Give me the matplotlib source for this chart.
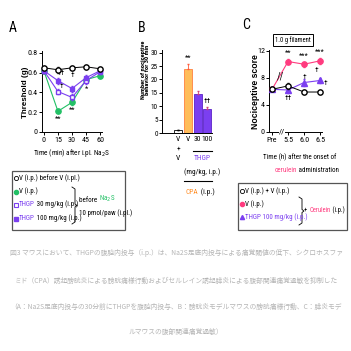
import matplotlib
matplotlib.use('Agg')
import matplotlib.pyplot as plt
from matplotlib import transforms
from matplotlib.patches import Rectangle

plt.rcParams['font.family'] = ['Roboto Condensed', 'Archivo Narrow', 'DejaVu Sans']
plt.rcParams['axes.linewidth'] = 0.7
plt.rcParams['xtick.major.width'] = 0.7
plt.rcParams['ytick.major.width'] = 0.7
plt.rcParams['xtick.major.size'] = 2
plt.rcParams['ytick.major.size'] = 2
plt.rcParams['xtick.major.pad'] = 1.5
plt.rcParams['ytick.major.pad'] = 1

# colours
GREEN = '#22c065'
PURPLE = '#7b3ff0'
PINK = '#ff3b7f'
ORANGE_FILL = '#ffbd5a'
ORANGE_EDGE = '#ff8040'
ORANGE_TXT = '#ff8a1f'
CAPTION = '#b4b4b4'

# ---- panel A: threshold after i.pl. Na2S
a_time = [0, 15, 30, 45, 60]
a_vv = [0.65, 0.63, 0.65, 0.66, 0.64]
a_vv_err = [0.02, 0.03, 0.02, 0.02, 0.02]
a_v = [0.62, 0.21, 0.30, 0.53, 0.57]
a_v_err = [0.02, 0.02, 0.03, 0.03, 0.02]
a_t30 = [0.62, 0.41, 0.35, 0.52, 0.61]
a_t30_err = [0.02, 0.03, 0.03, 0.03, 0.02]
a_t100 = [0.62, 0.52, 0.44, 0.55, 0.62]
a_t100_err = [0.02, 0.03, 0.03, 0.03, 0.02]
a_yticks = [0, 0.2, 0.4, 0.6, 0.8]
a_yticklabels = ['0', '0.2', '0.4', '0.6', '0.8']

# ---- panel B: nociceptive behaviour (CPA)
b_vals = [1.0, 24.0, 14.7, 8.8]
b_err = [0.3, 1.8, 1.0, 0.8]
b_ticks = [0, 5, 10, 15, 20, 25, 30]

# ---- panel C: nociceptive score (cerulein)
c_labels = ['Pre', '5.5', '6.0', '6.5']
c_vv = [6.3, 6.8, 5.9, 5.9]
c_vv_err = [0.3, 0.4, 0.3, 0.3]
c_v = [6.3, 10.4, 10.0, 10.5]
c_v_err = [0.3, 0.4, 0.4, 0.4]
c_t100 = [6.3, 6.2, 7.3, 7.6]
c_t100_err = [0.3, 0.4, 0.5, 0.4]
c_yticks = [0, 4, 8, 12]

caption = [
    '図3 マウスにおいて、THGPの腹腔内投与（i.p.）は、Na2S足底内投与による痛覚閾値の低下、シクロホスファ',
    'ミド（CPA）誘起膀胱炎による膀胱痛様行動およびセルレイン誘起膵炎による腹部関連痛覚過敏を抑制した',
    '（A：Na2S足底内投与の30分前にTHGPを腹腔内投与、B：膀胱炎モデルマウスの膀胱痛様行動、C：膵炎モデ',
    'ルマウスの腹部関連痛覚過敏）',
]

W = H = 351
fig = plt.figure(figsize=(W / 100, H / 100), dpi=100)

# overlay in pixel coordinates for free text and legend boxes
ov = fig.add_axes([0, 0, 1, 1])
ov.set_xlim(0, W)
ov.set_ylim(H, 0)
ov.axis('off')

TICK = 5.8
LEG = 5.0


def px_axes(x0, y0, x1, y1):
    a = fig.add_axes([x0 / W, 1 - y1 / H, (x1 - x0) / W, (y1 - y0) / H])
    a.spines['top'].set_visible(False)
    a.spines['right'].set_visible(False)
    a.patch.set_visible(False)
    a.tick_params(labelsize=TICK)
    return a


def seg_text(x, y, parts, size=LEG):
    t = ov.text(x, y, parts[0][0], color=parts[0][1], fontsize=size, va='center', ha='left')
    for s, c in parts[1:]:
        t = ov.annotate(s, xy=(1, 0), xycoords=t, va='bottom', ha='left', color=c, fontsize=size)
    return t


def bracket(x, y0, y1):
    ym = (y0 + y1) / 2
    ov.plot([x - 3, x, x, x + 2, x, x, x - 3],
            [y0, y0 + 2, ym - 1.5, ym, ym + 1.5, y1 - 2, y1], color='k', lw=0.6)


# ================= A
ax = px_axes(42, 51, 102, 132)
ax.errorbar(a_time, a_vv, yerr=a_vv_err, color='k', marker='o', mfc='white', mec='k',
            ms=3.8, lw=0.7, capsize=1, elinewidth=0.6, zorder=5, clip_on=False)
ax.errorbar(a_time, a_t30, yerr=a_t30_err, color=PURPLE, marker='s', mfc='white', mec=PURPLE,
            ms=3.5, lw=0.8, capsize=1, elinewidth=0.6, zorder=4, clip_on=False)
ax.errorbar(a_time, a_t100, yerr=a_t100_err, color=PURPLE, marker='s', mfc=PURPLE, mec=PURPLE,
            ms=3.5, lw=0.8, capsize=1, elinewidth=0.6, zorder=4, clip_on=False)
ax.errorbar(a_time, a_v, yerr=a_v_err, color=GREEN, marker='o', mfc=GREEN, mec=GREEN,
            ms=3.8, lw=0.8, capsize=1, elinewidth=0.6, zorder=3, clip_on=False)
ax.set_xlim(-2, 62)
ax.set_ylim(0, 0.82)
ax.set_xticks(a_time)
ax.set_yticks(a_yticks)
ax.set_yticklabels(a_yticklabels)
for xx, yy, s in [(19, 0.60, '††'), (19, 0.47, '†'), (31, 0.58, '†'),
                  (15, 0.13, '**'), (30, 0.22, '**'), (45, 0.44, '*')]:
    ax.text(xx, yy, s, fontsize=5.5, ha='center', va='center')
ov.text(13, 28, 'A', fontsize=10, ha='center', va='center')
ov.text(25.5, 92, 'Threshold (g)', rotation=90, fontsize=5.8, fontweight='bold',
        family='Liberation Sans', ha='center', va='center')
ov.text(72, 153, 'Time (min) after i.pl. Na$_2$S', fontsize=5.2, ha='center', va='center')

# ================= B
bx = px_axes(162, 50, 212, 133)
bx.tick_params(labelsize=5.2)
pos = [1, 2, 3, 4]
fills = ['white', ORANGE_FILL, PURPLE, PURPLE]
edges = ['k', ORANGE_EDGE, '#5a22c8', '#5a22c8']
errc = ['k', '#ff5a3a', '#d0407a', '#d0407a']
for p, v, e, f, ec, c in zip(pos, b_vals, b_err, fills, edges, errc):
    bx.bar(p, v, width=0.82, color=f, edgecolor=ec, linewidth=0.6, zorder=2)
    bx.errorbar(p, v, yerr=[[0], [e]], color=c, capsize=1, elinewidth=0.6, zorder=3)
bx.set_xlim(-0.68, 4.47)
bx.set_ylim(0, 31)
bx.set_yticks(b_ticks)
bx.set_xticks([])
bx.text(2, b_vals[1] + b_err[1] + 1.2, '**', fontsize=5.5, ha='center', va='bottom')
bx.text(4, b_vals[3] + b_err[3] + 1.2, '††', fontsize=5.5, ha='center', va='bottom')
ov.text(142, 28, 'B', fontsize=10, ha='center', va='center')
ov.text(145.5, 70, 'Number of nociceptive\nbehavior for 30 min', rotation=90, fontsize=4.6,
        fontweight='bold', ha='center', va='center', linespacing=0.9)
tb = transforms.blended_transform_factory(bx.transData, ov.transData)
for s, yy in [('V', 139), ('+', 148.5), ('V', 158)]:
    bx.text(1, yy, s, transform=tb, fontsize=5.5, ha='center', va='center')
bx.text(2, 139, 'V', transform=tb, fontsize=5.5, ha='center', va='center')
bx.text(3, 139, '30', transform=tb, fontsize=5.5, ha='center', va='center')
bx.text(4, 139, '100', transform=tb, fontsize=5.5, ha='center', va='center')
bx.plot([2.55, 4.5], [151, 151], transform=tb, color='k', lw=0.8, clip_on=False)
bx.text(3.5, 158.5, 'THGP', transform=tb, fontsize=5.3, ha='center', va='center', color=PURPLE)
bx.text(3.5, 172, '(mg/kg, i.p.)', transform=tb, fontsize=5.3, ha='center', va='center')
bx.plot([1.6, 4.5], [181, 181], transform=tb, color='k', lw=0.8, clip_on=False)
seg_text(186, 192, [('CPA', ORANGE_TXT), (' (i.p.)', 'k')], size=5.3)

# ================= C
cx = px_axes(269, 50, 322, 132)
cpos = list(range(len(c_labels)))
cx.errorbar(cpos, c_vv, yerr=c_vv_err, color='k', marker='o', mfc='white', mec='k',
            ms=3.8, lw=0.7, capsize=1, elinewidth=0.6, zorder=5, clip_on=False)
cx.errorbar(cpos, c_t100, yerr=c_t100_err, color=PURPLE, marker='^', mfc=PURPLE, mec=PURPLE,
            ms=3.8, lw=0.8, capsize=1, elinewidth=0.6, zorder=4, clip_on=False)
cx.errorbar(cpos, c_v, yerr=c_v_err, color=PINK, marker='o', mfc=PINK, mec=PINK,
            ms=3.8, lw=0.8, capsize=1, elinewidth=0.6, zorder=3, clip_on=False)
cx.set_xlim(-0.19, 3.12)
cx.set_ylim(0, 12.1)
cx.set_xticks(cpos)
cx.set_xticklabels(c_labels)
cx.set_yticks(c_yticks)
for xx in [1, 2, 3]:
    cx.text(xx, c_v[xx] + 0.8, '**' if xx == 1 else '***', fontsize=5.5, ha='center', va='bottom')
for xx, yy, s in [(2, 8.1, '†'), (2.8, 9.1, '†'), (3.35, 7.2, '†'), (1, 5.0, '††')]:
    cx.text(xx, yy, s, fontsize=5.5, ha='center', va='center')
cx.text(0.55, 8.2, '//', fontsize=7, ha='center', va='center', zorder=6)
cx.text(0.6, 0, '//', fontsize=6, ha='center', va='center', clip_on=False,
        bbox=dict(fc='white', ec='none', pad=0))
ov.text(246, 25, 'C', fontsize=10, ha='center', va='center')
ov.text(293, 40, '1.0 g filament', fontsize=4.8, ha='center', va='center',
        bbox=dict(fc='white', ec='k', lw=0.7, boxstyle='square,pad=0.3'))
ov.text(255, 92, 'Nociceptive score', rotation=90, fontsize=6.2, fontweight='bold',
        family='Liberation Sans', ha='center', va='center')
ov.text(300, 157, 'Time (h) after the onset of', fontsize=5.0, ha='center', va='center')
seg_text(275, 170, [('cerulein', PINK), (' administration', 'k')], size=5.0)

# ================= legend A
ov.add_patch(Rectangle((12, 171), 113, 59, fc='white', ec='#555555', lw=0.9))
ov.plot([16], [178], 'o', mfc='white', mec='k', ms=3, mew=0.6)
seg_text(19, 178, [('V (i.p.) before V (i.pl.)', 'k')])
ov.plot([16], [191.5], 'o', mfc=GREEN, mec=GREEN, ms=3)
seg_text(19, 191.5, [('V (i.p.)', 'k')])
ov.plot([16], [205], 's', mfc='white', mec=PURPLE, ms=3, mew=0.8)
seg_text(19, 205, [('THGP', PURPLE), (' 30 mg/kg (i.p.)', 'k')])
ov.plot([16], [218.5], 's', mfc=PURPLE, mec=PURPLE, ms=3)
seg_text(19, 218.5, [('THGP', PURPLE), (' 100 mg/kg (i.p.)', 'k')])
bracket(75, 187, 224)
seg_text(79, 201, [('before ', 'k'), ('Na$_2$S', GREEN)])
seg_text(79, 213, [('10 pmol/paw (i.pl.)', 'k')])

# ================= legend C
ov.add_patch(Rectangle((238, 183), 109, 47, fc='white', ec='#555555', lw=0.9))
ov.plot([242], [191], 'o', mfc='white', mec='k', ms=3, mew=0.6)
seg_text(245, 191, [('V (i.p.) + V (i.p.)', 'k')])
ov.plot([242], [204], 'o', mfc=PINK, mec=PINK, ms=3)
seg_text(245, 204, [('V (i.p.)', 'k')])
ov.plot([242], [217], '^', mfc=PURPLE, mec=PURPLE, ms=3)
seg_text(245, 217, [('THGP 100 mg/kg (i.p.)', PURPLE)])
bracket(302, 197, 225)
seg_text(304.5, 211, [('+ ', 'k'), ('Cerulein', PINK), (' (i.p.)', 'k')], size=4.8)

# ================= caption
for s, yy in zip(caption, [253, 281, 307, 332]):
    ov.text(176, yy, s, fontsize=4.9, color=CAPTION, ha='center', va='center',
            family=['Noto Sans CJK JP', 'DejaVu Sans'])

fig.savefig('out.png', dpi=100)
